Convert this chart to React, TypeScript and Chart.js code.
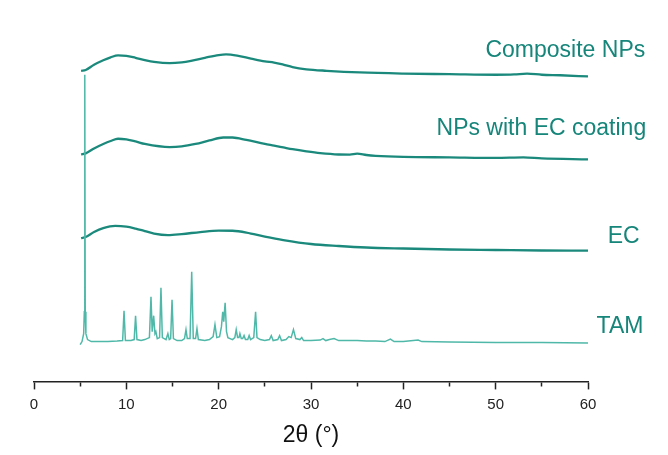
import React, { useEffect, useRef } from 'react';
import { Chart, registerables } from 'chart.js';

Chart.register(...registerables);

// 2θ tick labels (major every 10°, minor every 5°)
const xMin = 0;
const xMax = 60;
const xStep = 5;

// Series (stacked intensities, arbitrary units)
const compositeX = [5.1, 5.6, 6.5, 7.5, 8.3, 9.1, 10, 11, 12, 13, 14.7, 16, 17, 18.5, 20, 20.8, 22, 23.5, 25, 26, 27, 28, 29.5, 31.7, 35.3, 40, 45, 50, 52, 53.4, 55, 57, 60];
const compositeY = [312, 312.8, 318, 322.5, 325.5, 327.5, 327, 325, 322.8, 321, 319.7, 320.5, 322, 325, 327.8, 328.5, 327.3, 324.3, 321.5, 320.3, 318.2, 315.7, 313.5, 312, 310.3, 309.2, 308.6, 308, 308.3, 309.2, 308, 307.5, 306.3];

const npsX = [5.1, 5.6, 6.5, 7.5, 8.3, 9.1, 10, 11, 12, 14.7, 16, 17.5, 19, 20.5, 21.5, 23, 25, 26, 27, 28, 29.5, 31, 33, 34.2, 35, 36, 37, 40, 45, 50, 53, 55, 60];
const npsY = [228, 229, 234, 238.5, 241.5, 243.7, 243, 241, 238.5, 235.3, 236, 238.5, 242, 245, 245, 242.5, 238.5, 236.8, 235, 233.2, 231, 229.2, 227.9, 227.8, 228.7, 227.4, 226.6, 225.5, 225, 224.5, 225, 224, 223];

const ecX = [5.1, 5.6, 6.5, 7.5, 8.8, 10, 11, 12, 13, 14.5, 16, 18, 20, 21.5, 23, 25, 27, 30, 33, 36, 40, 45, 50, 55, 60];
const ecY = [144, 145, 150, 154, 156.3, 155.5, 153.5, 151, 148.5, 147, 148, 150, 151.5, 151.3, 149.5, 145.5, 142, 138, 136, 134.5, 133.5, 132.5, 132, 131.5, 131.3];

const tamX = [5.0, 5.2, 5.38, 5.45, 5.5, 5.55, 5.62, 5.8, 6.2, 7, 8, 9, 9.6, 9.75, 9.9, 10.5, 10.85, 11.0, 11.15, 11.6, 12.0, 12.5, 12.67, 12.8, 12.96, 13.1, 13.2, 13.35, 13.6, 13.75, 13.9, 14.3, 14.5, 14.65, 14.8, 14.95, 15.1, 15.5, 16.0, 16.3, 16.46, 16.6, 16.9, 17.08, 17.25, 17.5, 17.65, 17.8, 18.5, 19.0, 19.4, 19.6, 19.8, 20.1, 20.3, 20.44, 20.55, 20.7, 20.85, 21.0, 21.5, 21.75, 21.9, 22.05, 22.2, 22.3, 22.45, 22.6, 22.75, 22.9, 23.15, 23.3, 23.45, 23.8, 24.0, 24.15, 24.5, 25.0, 25.5, 25.7, 25.9, 26.4, 26.6, 26.8, 27.3, 27.6, 27.85, 28.1, 28.35, 28.8, 29.0, 29.2, 30, 31, 31.3, 31.6, 32, 32.5, 33, 34, 35, 36, 37, 38, 38.6, 39, 40, 41.6, 42, 45, 50, 55, 60];
const tamY = [37, 40, 48, 70, 308, 70, 48, 42, 40, 40, 40, 40.5, 41, 71, 41, 41, 42, 66, 42, 41, 42, 44, 85, 50, 66, 48, 50, 43, 44, 94, 44, 42, 48, 42, 43, 82, 43, 41, 41, 43, 52, 43, 43, 110, 43, 43, 53, 42, 41, 42, 45, 57, 44, 45, 55, 70, 60, 79, 50, 44, 42, 44, 52, 44, 44, 48, 43, 43, 46, 42, 42, 46, 42, 44, 70, 44, 42, 41, 42, 46, 41, 42, 46, 41, 42, 45, 44, 52, 43, 42, 44, 41, 41, 41.5, 43, 41, 42, 43, 41, 41, 41, 40.5, 40.5, 40, 42.5, 40, 40, 41.5, 40, 39.5, 39, 39, 38.5];

const seriesNames = ['Composite NPs', 'NPs with EC coating', 'EC', 'TAM'];

// label anchors (right edge in 2θ, alphabetic baseline in a.u.)
const labelRight = [66.2, 66.3, 65.6, 66.0];
const labelBase = [326, 247, 139.5, 49];

const TEAL = '#1b8a7d';
const TEAL_LIGHT = '#4fb8a8';
const TEXT_TEAL = '#16857a';
const FONT = "'Liberation Sans', Arial, sans-serif";

const pts = (xs: number[], ys: number[]) => xs.map((x, i) => ({ x, y: ys[i] }));

const labelPlugin = {
  id: 'traceLabels',
  afterDraw(chart: any) {
    const { ctx, scales } = chart;
    ctx.save();
    ctx.fillStyle = TEXT_TEAL;
    ctx.font = `23px ${FONT}`;
    ctx.textAlign = 'right';
    ctx.textBaseline = 'alphabetic';
    seriesNames.forEach((name, i) => {
      const x = scales.x.getPixelForValue(labelRight[i]);
      const y = scales.y.getPixelForValue(labelBase[i]);
      ctx.fillText(name, x, y);
    });
    ctx.restore();
  },
};

export default function App() {
  const ref = useRef<HTMLCanvasElement>(null);
  useEffect(() => {
    if (!ref.current) return;
    Chart.defaults.font.family = FONT;
    const amorph = { borderColor: TEAL, borderWidth: 2.3, pointRadius: 0, tension: 0.4, cubicInterpolationMode: 'monotone' as const };
    const chart = new Chart(ref.current, {
      type: 'line',
      data: {
        datasets: [
          { label: seriesNames[3], data: pts(tamX, tamY), borderColor: TEAL_LIGHT, borderWidth: 1.5, pointRadius: 0, tension: 0 },
          { label: seriesNames[2], data: pts(ecX, ecY), ...amorph },
          { label: seriesNames[1], data: pts(npsX, npsY), ...amorph },
          { label: seriesNames[0], data: pts(compositeX, compositeY), ...amorph },
        ],
      },
      options: {
        animation: false,
        responsive: true,
        maintainAspectRatio: false,
        layout: { padding: { left: 34, right: 80, top: 20, bottom: 6 } },
        plugins: { legend: { display: false }, tooltip: { enabled: false } },
        scales: {
          x: {
            type: 'linear',
            min: xMin,
            max: xMax,
            border: { display: true, color: '#222', width: 1.5 },
            grid: {
              drawOnChartArea: false,
              drawTicks: true,
              tickLength: 8,
              color: '#222',
              tickWidth: 1.5,
              tickBorderDash: (c: any) => (c.tick && c.tick.value % 10 === 0 ? [] : [4, 100]),
            } as any,
            ticks: {
              stepSize: xStep,
              padding: 6,
              color: '#222',
              font: { size: 15, family: FONT },
              maxRotation: 0,
              autoSkip: false,
              callback: (v: any) => (Number(v) % 10 === 0 ? String(v) : ''),
            },
            title: {
              display: true,
              text: '2θ (°)',
              color: '#111',
              font: { size: 23, family: FONT },
              padding: { top: 2, bottom: 0 },
            },
          },
          y: { display: false, min: 0, max: 363 },
        },
      },
      plugins: [labelPlugin],
    });
    return () => chart.destroy();
  }, []);
  return (
    <div style={{ position: 'fixed', left: 0, top: 0, width: 668, height: 455, background: '#fff' }}>
      <canvas ref={ref} />
    </div>
  );
}
